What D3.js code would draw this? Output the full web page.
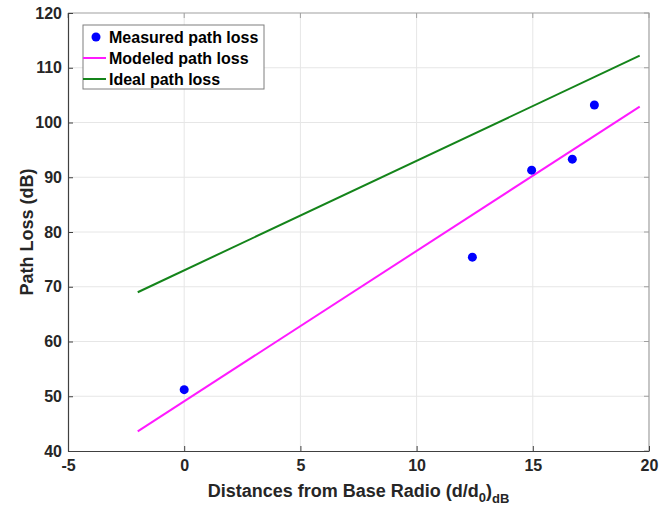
<!DOCTYPE html>
<html>
<head>
<meta charset="utf-8">
<script src="https://cdn.jsdelivr.net/npm/d3@7"></script>
<style>
  body { margin: 0; background: #fff; }
  text { font-family: "Liberation Sans", Arial, sans-serif; }
</style>
</head>
<body>
<svg id="chart" width="672" height="506"></svg>
<script>
// measured points
const measuredX = [0, 12.4, 14.95, 16.7, 17.65]
const measuredY = [51.2, 75.4, 91.3, 93.3, 103.2]
// fitted lines (end points)
const lineX = [-2, 19.6]
const modeledY = [43.6, 102.9]
const idealY = [69, 112.2]

const xTicks = [-5, 0, 5, 10, 15, 20]
const yTicks = [40, 50, 60, 70, 80, 90, 100, 110, 120]

const width = 672
const height = 506
const margin = { left: 68, right: 23, top: 13, bottom: 55 }

const svg = d3.select("#chart")

const x = d3.scaleLinear()
  .domain([-5, 20])
  .range([margin.left, width - margin.right])

const y = d3.scaleLinear()
  .domain([40, 120])
  .range([height - margin.bottom, margin.top])

// grid
svg.append("g")
  .selectAll("line")
  .data(xTicks.slice(1, -1))
  .join("line")
  .attr("x1", d => x(d)).attr("x2", d => x(d))
  .attr("y1", y(40)).attr("y2", y(120))
  .attr("stroke", "#e6e6e6")

svg.append("g")
  .selectAll("line")
  .data(yTicks.slice(1, -1))
  .join("line")
  .attr("y1", d => y(d)).attr("y2", d => y(d))
  .attr("x1", x(-5)).attr("x2", x(20))
  .attr("stroke", "#e6e6e6")

// box top/right
svg.append("path")
  .attr("d", `M${x(-5)},${y(120)}H${x(20)}V${y(40)}`)
  .attr("fill", "none")
  .attr("stroke", "#a0a0a0")
  .attr("stroke-width", 1.2)

// inner ticks on top and right
svg.append("g")
  .selectAll("line")
  .data(xTicks)
  .join("line")
  .attr("x1", d => x(d)).attr("x2", d => x(d))
  .attr("y1", y(120)).attr("y2", y(120) + 5)
  .attr("stroke", "#a0a0a0")

svg.append("g")
  .selectAll("line")
  .data(yTicks)
  .join("line")
  .attr("y1", d => y(d)).attr("y2", d => y(d))
  .attr("x1", x(20)).attr("x2", x(20) - 5)
  .attr("stroke", "#a0a0a0")

const styleTicks = g => g.selectAll(".tick text")
  .attr("font-size", 16).attr("font-weight", "bold").attr("fill", "#262626")
  .style("font-family", "'Liberation Sans', Arial, sans-serif")

const xAxis = g => g
  .attr("transform", `translate(0,${y(40)})`)
  .call(d3.axisBottom(x).tickValues(xTicks).tickFormat(d => String(d))
    .tickSizeInner(-5).tickSizeOuter(0).tickPadding(9))
  .call(g => g.select(".domain").attr("stroke", "#404040").attr("stroke-width", 1.2))
  .call(g => g.selectAll(".tick line").attr("stroke", "#404040"))
  .call(styleTicks)

const yAxis = g => g
  .attr("transform", `translate(${x(-5)},0)`)
  .call(d3.axisLeft(y).tickValues(yTicks).tickFormat(d => String(d))
    .tickSizeInner(-5).tickSizeOuter(0).tickPadding(6))
  .call(g => g.select(".domain").attr("stroke", "#404040").attr("stroke-width", 1.2))
  .call(g => g.selectAll(".tick line").attr("stroke", "#404040"))
  .call(styleTicks)

svg.append("g").call(xAxis)
svg.append("g").call(yAxis)

// lines
const line = d3.line()
  .x(d => x(d[0]))
  .y(d => y(d[1]))

svg.append("path")
  .datum(d3.zip(lineX, idealY))
  .attr("fill", "none")
  .attr("stroke", "#14841a")
  .attr("stroke-width", 2)
  .attr("d", line)

svg.append("path")
  .datum(d3.zip(lineX, modeledY))
  .attr("fill", "none")
  .attr("stroke", "#ff1aff")
  .attr("stroke-width", 2)
  .attr("d", line)

svg.append("g")
  .selectAll("circle")
  .data(d3.zip(measuredX, measuredY))
  .join("circle")
  .attr("cx", d => x(d[0]))
  .attr("cy", d => y(d[1]))
  .attr("r", 4.5)
  .attr("fill", "#0000ff")

// legend
const legend = svg.append("g").attr("transform", "translate(83,25)")
legend.append("rect")
  .attr("width", 181).attr("height", 64)
  .attr("fill", "#fff")
  .attr("stroke", "#7f7f7f")
  .attr("stroke-width", 1)

const entries = [
  { label: "Measured path loss", type: "dot", color: "#0000ff" },
  { label: "Modeled path loss", type: "line", color: "#ff1aff" },
  { label: "Ideal path loss", type: "line", color: "#14841a" }
]

entries.forEach((e, i) => {
  const cy = 12 + i * 21
  if (e.type === "dot") {
    legend.append("circle").attr("cx", 13).attr("cy", cy).attr("r", 4.5).attr("fill", e.color)
  } else {
    legend.append("line").attr("x1", 0).attr("x2", 23).attr("y1", cy).attr("y2", cy)
      .attr("stroke", e.color).attr("stroke-width", 2)
  }
  legend.append("text")
    .attr("x", 26).attr("y", cy).attr("dy", "0.35em")
    .attr("font-size", 16).attr("font-weight", "bold").attr("fill", "#000")
    .text(e.label)
})

// axis labels
svg.append("text")
  .attr("transform", `translate(33,${(y(40) + y(120)) / 2}) rotate(-90)`)
  .attr("text-anchor", "middle")
  .attr("font-size", 18).attr("font-weight", "bold").attr("fill", "#262626")
  .text("Path Loss (dB)")

const xl = svg.append("text")
  .attr("x", (x(-5) + x(20)) / 2)
  .attr("y", 497)
  .attr("text-anchor", "middle")
  .attr("font-size", 18).attr("font-weight", "bold").attr("fill", "#262626")
xl.append("tspan").text("Distances from Base Radio (d/d")
xl.append("tspan").attr("font-size", 13).attr("dy", 5).text("0")
xl.append("tspan").attr("dy", -5).text(")")
xl.append("tspan").attr("font-size", 13).attr("dy", 6).text("dB")
</script>
</body>
</html>
